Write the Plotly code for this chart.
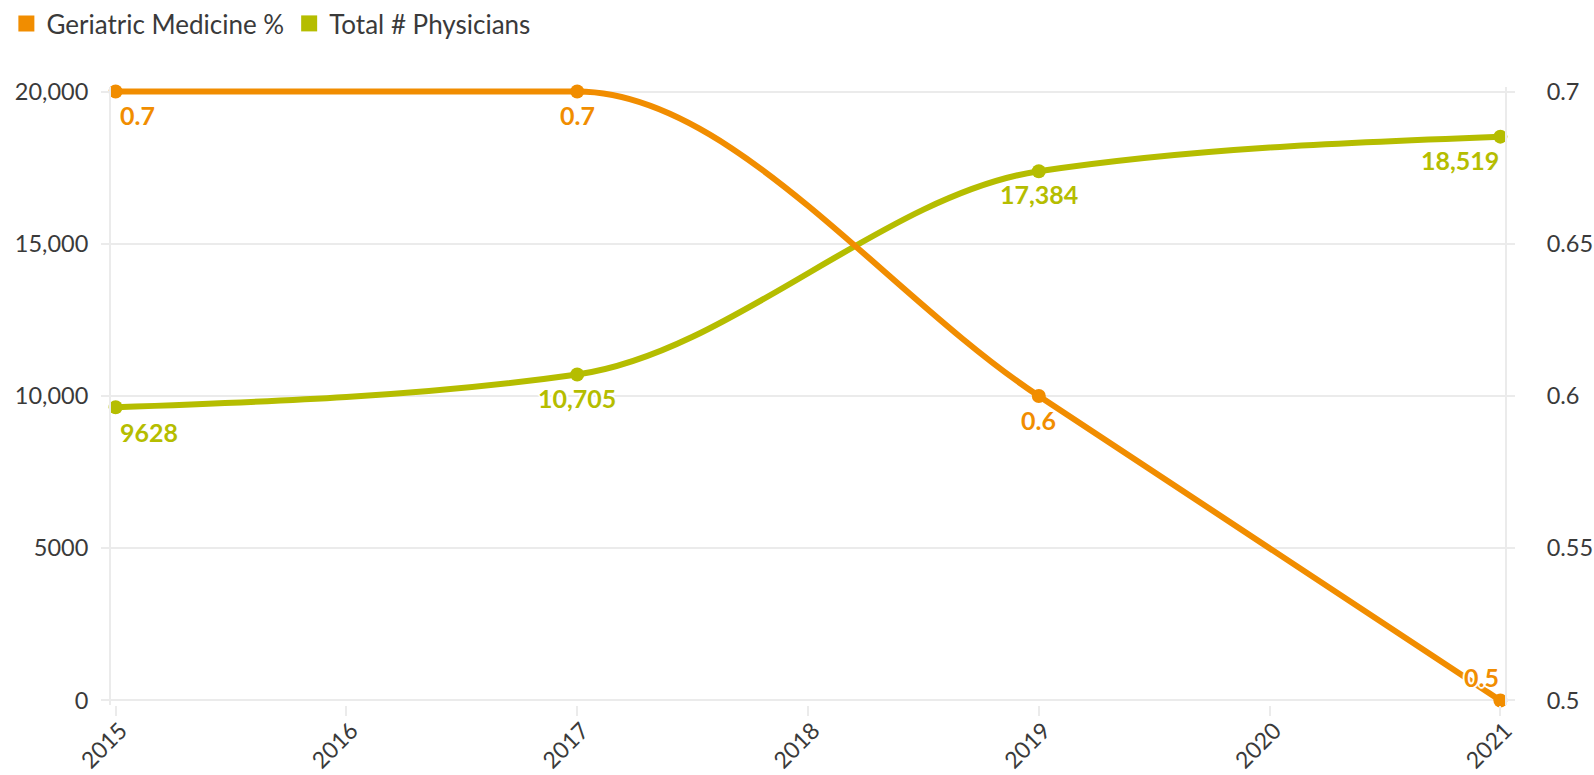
import plotly.graph_objects as go

years = [2015, 2017, 2019, 2021]
geriatric_pct = [0.7, 0.7, 0.6, 0.5]
total_physicians = [9628, 10705, 17384, 18519]

left_tickvals = [0, 5000, 10000, 15000, 20000]
left_ticktext = ["0", "5000", "10,000", "15,000", "20,000"]
right_tickvals = [0.5, 0.55, 0.6, 0.65, 0.7]
right_ticktext = ["0.5", "0.55", "0.6", "0.65", "0.7"]
x_ticks = [2015, 2016, 2017, 2018, 2019, 2020, 2021]

ORANGE = "#F18D00"
GREEN = "#B5BD00"
GRID = "#EBEBEB"
TEXT = "#3a3a3a"
FONT = "Lato, 'Source Sans Pro', sans-serif"

Y_RANGE = [-150, 20150]
Y2_RANGE = [0.4985, 0.7015]


def fmt_num(v):
    return f"{v:,}" if v >= 10000 else str(v)


def to_left_axis(vals):
    # map right-axis values onto the left axis scale (both linear, aligned)
    return [Y_RANGE[0] + (v - Y2_RANGE[0]) / (Y2_RANGE[1] - Y2_RANGE[0]) * (Y_RANGE[1] - Y_RANGE[0])
            for v in vals]


def monotone_path(xs, ys):
    # cubic monotone (monotoneX) bezier path through the data points
    n = len(xs)

    def sign(v):
        return (v > 0) - (v < 0)

    t = [0.0] * n
    for i in range(1, n - 1):
        h0 = xs[i] - xs[i - 1]
        h1 = xs[i + 1] - xs[i]
        s0 = (ys[i] - ys[i - 1]) / h0
        s1 = (ys[i + 1] - ys[i]) / h1
        p = (s0 * h1 + s1 * h0) / (h0 + h1)
        t[i] = (sign(s0) + sign(s1)) * min(abs(s0), abs(s1), 0.5 * abs(p))
    h = xs[1] - xs[0]
    t[0] = (3 * (ys[1] - ys[0]) / h - t[1]) / 2
    h = xs[-1] - xs[-2]
    t[-1] = (3 * (ys[-1] - ys[-2]) / h - t[-2]) / 2
    path = f"M {xs[0]},{ys[0]}"
    for i in range(n - 1):
        dx = (xs[i + 1] - xs[i]) / 3
        path += (f" C {xs[i] + dx},{ys[i] + dx * t[i]}"
                 f" {xs[i + 1] - dx},{ys[i + 1] - dx * t[i + 1]}"
                 f" {xs[i + 1]},{ys[i + 1]}")
    return path


halo = ("1px 1px 1px #fff, -1px -1px 1px #fff, 1px -1px 1px #fff, "
        "-1px 1px 1px #fff, 0 2px 1px #fff, 0 -2px 1px #fff, 2px 0 1px #fff, -2px 0 1px #fff")

fig = go.Figure()

# legend entries
fig.add_trace(go.Scatter(x=[None], y=[None], mode="markers", name="Geriatric Medicine %",
                         marker=dict(symbol="square", size=16, color=ORANGE)))
fig.add_trace(go.Scatter(x=[None], y=[None], mode="markers", name="Total # Physicians",
                         marker=dict(symbol="square", size=16, color=GREEN)))

# smooth lines
fig.add_shape(type="path", path=monotone_path(years, total_physicians), xref="x", yref="y",
              line=dict(color=GREEN, width=6), layer="between")
fig.add_shape(type="path", path=monotone_path(years, to_left_axis(geriatric_pct)), xref="x", yref="y",
              line=dict(color=ORANGE, width=6), layer="between")

# points
fig.add_trace(go.Scatter(x=years, y=total_physicians, mode="markers", yaxis="y", showlegend=False,
                         marker=dict(size=14, color=GREEN), cliponaxis=False))
fig.add_trace(go.Scatter(x=years, y=geriatric_pct, mode="markers", yaxis="y2", showlegend=False,
                         marker=dict(size=14, color=ORANGE), cliponaxis=False))

# value labels
label_anchor = ["left", "center", "center", "right"]
label_xshift = [2, 0, 0, 1]
green_yshift = [-25, -23, -23, -23]
orange_yshift = [-23, -23, -24, 23]
for i, yr in enumerate(years):
    fig.add_annotation(x=yr, y=total_physicians[i], xref="x", yref="y",
                       text=fmt_num(total_physicians[i]), showarrow=False,
                       xanchor=label_anchor[i], yanchor="middle",
                       xshift=label_xshift[i], yshift=green_yshift[i],
                       font=dict(color=GREEN, size=25, family=FONT, weight="bold", shadow=halo))
    fig.add_annotation(x=yr, y=geriatric_pct[i], xref="x", yref="y2",
                       text=str(geriatric_pct[i]), showarrow=False,
                       xanchor=label_anchor[i], yanchor="middle",
                       xshift=label_xshift[i], yshift=orange_yshift[i],
                       font=dict(color=ORANGE, size=25, family=FONT, weight="bold", shadow=halo))

fig.update_layout(
    width=1594, height=775,
    margin=dict(l=111, r=89, t=87, b=70, autoexpand=False),
    paper_bgcolor="white", plot_bgcolor="white",
    font=dict(family=FONT, color=TEXT, size=23),
    legend=dict(orientation="h", xref="container", yref="container", x=0.004, y=1.0,
                xanchor="left", yanchor="top",
                font=dict(size=26, color=TEXT), itemwidth=30, tracegroupgap=0,
                bgcolor="rgba(0,0,0,0)"),
    xaxis=dict(range=[2014.98, 2021.02], tickvals=x_ticks, ticktext=[str(v) for v in x_ticks],
               tickangle=-45, showgrid=False,
               ticks="outside", ticklen=10, tickcolor=GRID, tickwidth=2,
               zeroline=False, showline=False, tickfont=dict(size=23), automargin=False,
               ticklabelstandoff=-8, ticklabelshift=5),
    yaxis=dict(range=Y_RANGE, tickvals=left_tickvals, ticktext=left_ticktext,
               showgrid=True, gridcolor=GRID, gridwidth=2, ticks="outside", ticklen=8,
               tickcolor=GRID, tickwidth=2, zeroline=False,
               showline=True, linecolor=GRID, linewidth=2,
               tickfont=dict(size=23.5), ticklabelstandoff=8, automargin=False),
    yaxis2=dict(range=Y2_RANGE, tickvals=right_tickvals, ticktext=right_ticktext,
                overlaying="y", side="right", showgrid=False, ticks="outside", ticklen=8,
                tickcolor=GRID, tickwidth=2, zeroline=False,
                showline=True, linecolor=GRID, linewidth=2,
                tickfont=dict(size=23.5), ticklabelstandoff=27, automargin=False),
)

fig.write_html("out.html", config={"displayModeBar": False},
               post_script="document.body.style.margin='0';document.body.style.overflow='hidden';")
